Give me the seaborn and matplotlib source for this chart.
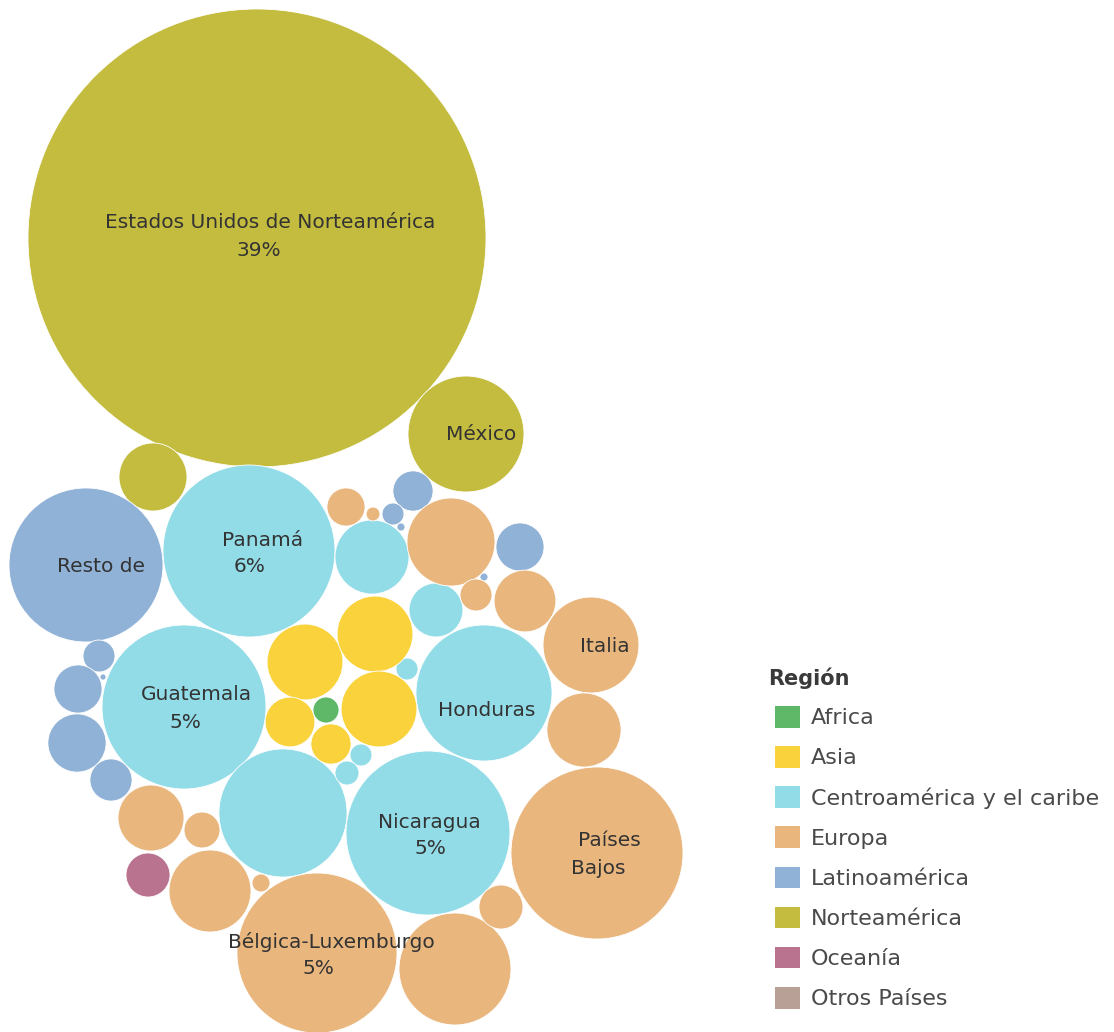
import numpy as np
import pandas as pd
import matplotlib
matplotlib.use("Agg")
import matplotlib.pyplot as plt
from matplotlib.patches import Patch
import seaborn as sns

# ---------------- data ----------------
regions = ["Africa", "Asia", "Centroamérica y el caribe", "Europa",
           "Latinoamérica", "Norteamérica", "Oceanía", "Otros Países"]
region_colors = ["#5FB868", "#F9D23C", "#92DCE8", "#E9B77E",
                 "#91B2D7", "#C3BC3F", "#B9738F", "#B9A096"]

# one entry per bubble: region, share of total (%), layout position (px)
bubble_region = (["Norteamérica"] * 3
                 + ["Latinoamérica"] * 11
                 + ["Centroamérica y el caribe"] * 10
                 + ["Asia"] * 5
                 + ["Africa"]
                 + ["Europa"] * 15
                 + ["Oceanía"])
bubble_share = [39.0, 2.50, 0.86,
                4.41, 0.30, 0.090, 0.012, 0.43, 0.012, 0.19, 0.43, 0.007, 0.63, 0.33,
                5.50, 5.00, 3.44, 5.00, 3.05, 1.02, 0.54, 0.09, 0.09, 0.107,
                1.07, 1.07, 1.07, 0.46, 0.30,
                0.126,
                4.76, 5.50, 1.71, 1.02, 2.33, 0.36, 1.44, 0.71, 0.19, 0.27, 0.036, 0.81, 0.24, 1.25, 0.06,
                0.36]
bubble_x = [257, 466, 153,
            86, 413, 393, 401, 520, 484, 99, 78, 103, 77, 111,
            249, 184, 484, 428, 283, 372, 436, 407, 361, 347,
            305, 375, 379, 290, 331,
            326,
            317, 597, 591, 584, 455, 501, 451, 525, 476, 346, 373, 151, 202, 210, 261,
            148]
bubble_y = [238, 434, 477,
            565, 491, 514, 527, 547, 577, 656, 689, 677, 743, 780,
            551, 707, 693, 833, 813, 557, 610, 669, 755, 773,
            662, 634, 709, 722, 744,
            710,
            953, 853, 645, 730, 969, 907, 542, 601, 595, 507, 514, 818, 830, 891, 883,
            875]

label_text = ["Estados Unidos de Norteamérica", "39%", "México", "Resto de",
              "Panamá", "6%", "Guatemala", "5%", "Honduras", "Italia",
              "Nicaragua", "5%", "Países", "Bajos", "Bélgica-Luxemburgo", "5%"]
label_x = [270, 259, 481, 101, 263, 250, 196, 185, 487, 605, 429, 430, 609, 598, 331, 318]
label_y = [222, 251, 435, 567, 540, 567, 695, 722, 710, 647, 822, 849, 840, 868, 942, 969]

# ---------------- figure ----------------
W, H, DPI = 1114, 1032, 100
sns.set_theme(style="white")
plt.rcParams["font.family"] = ["DejaVu Sans"]

fig = plt.figure(figsize=(W / DPI, H / DPI), dpi=DPI)
ax = fig.add_axes([0, 0, 1, 1])

df = pd.DataFrame({"x": bubble_x, "y": bubble_y,
                   "region": bubble_region, "share": bubble_share})

# radius (px) per sqrt(share): largest bubble radius 229 px
radius_per_sqrt = 229 / np.sqrt(max(bubble_share))
pt_per_px = 72 / DPI
area_per_share = (2 * radius_per_sqrt * pt_per_px) ** 2
smax = max(bubble_share)

palette = dict(zip(regions, region_colors))
sns.scatterplot(data=df, x="x", y="y", hue="region", palette=palette,
                size="share", sizes=(0, area_per_share * smax), size_norm=(0, smax),
                edgecolor="white", linewidth=0.6, alpha=1, legend=False, ax=ax)

ax.set_xlim(0, W)
ax.set_ylim(H, 0)
ax.set_aspect("equal")
ax.axis("off")

text_color = "#333333"
for t, x, y in zip(label_text, label_x, label_y):
    ax.text(x, y, t, ha="center", va="center", fontsize=14.5, color=text_color)

# legend
fig.text(768 / W, 1 - 678 / H, "Región", ha="left", va="center",
         fontsize=15, fontweight="bold", color="#3a3a3a")
handles = [Patch(facecolor=c, edgecolor="none", label=r)
           for r, c in zip(regions, region_colors)]
leg = fig.legend(handles=handles, loc="upper left",
                 bbox_to_anchor=(775 / W, 1 - 706 / H), frameon=False,
                 fontsize=16, handlelength=1.12, handleheight=1.12,
                 handletextpad=0.5, labelspacing=0.8,
                 borderpad=0, borderaxespad=0)
for t in leg.get_texts():
    t.set_color("#4a4a4a")

fig.savefig("out.png", dpi=DPI)
